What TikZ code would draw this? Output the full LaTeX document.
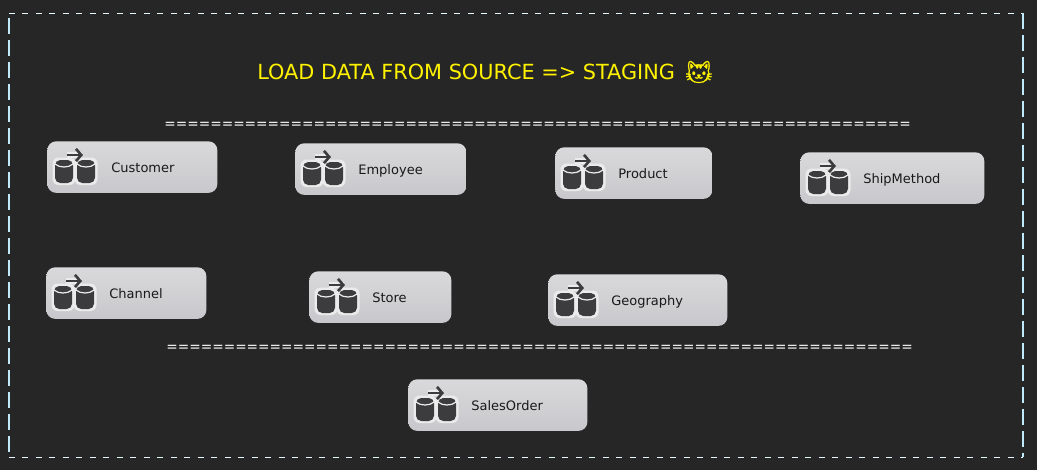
\documentclass[tikz,border=0pt]{standalone}
\usepackage{fontspec}
\setmainfont{DejaVu Sans}
\newfontfamily\emojifont[FakeBold=1.2]{Noto Emoji}
\usepackage{tikz}
\usetikzlibrary{arrows.meta}

\definecolor{panelbg}{HTML}{262626}
\definecolor{cardtop}{HTML}{D9D9DB}
\definecolor{cardbot}{HTML}{C8C8CC}
\definecolor{drumgray}{HTML}{3C3C3E}
\definecolor{halo}{HTML}{EBEBEB}
\tikzset{
	taskcard/.style={rounded corners=5pt, top color=cardtop, bottom color=cardbot, draw=none, anchor=north west, inner sep=0pt},
	tasklabel/.style={text=black!90, font=\fontsize{7.4pt}{10pt}\selectfont, anchor=base west, inner sep=0pt},
	ruletext/.style={text=white, font=\fontsize{7.8pt}{10pt}\selectfont, inner sep=0pt},
	sideh/.style={white!90!cyan, line width=0.45pt, dash pattern=on 0.12cm off 0.15cm},
	sidev/.style={white!75!cyan, line width=0.8pt, dash pattern=on 0.32cm off 0.12cm},
	drum/.pic={
		\fill[halo, rounded corners=3.5pt] (-2.5,-2.5) rectangle (20.5,25);
		\fill[drumgray, rounded corners=3pt] (0,0) rectangle (18,23);
		\draw[halo, line width=0.7pt] (0,4) .. controls (4,8) and (14,8) .. (18,4);
	},
}

\begin{document}
\begin{tikzpicture}[x=0.02cm,y=-0.02cm]
	\useasboundingbox (0,0) rectangle (1037,470);
	\fill[panelbg] (0,0) rectangle (1037,470);

	% border
	\coordinate (tl) at (9,13);
	\coordinate (tr) at (1023,13);
	\coordinate (bl) at (9,457);
	\coordinate (br) at (1023,457);
	\draw[sideh] (tl) -- (tr);
	\draw[sideh] (bl) -- (br);
	\draw[sidev] (9,18) -- (bl);
	\draw[sidev] (tr) -- (br);

	\node[anchor=west, inner sep=0pt, text=yellow, font=\fontsize{11.85pt}{14pt}\selectfont] (title) at (257,72) {LOAD DATA FROM SOURCE => STAGING};
	\node[anchor=west, inner sep=0pt, text=yellow, font=\fontsize{13pt}{16pt}\emojifont] (cat) at (684,72) {\symbol{"1F431}};

	\node[ruletext, anchor=west] (ruleup) at (164,125) {=================================================================};
	\node[ruletext, anchor=west] (ruledown) at (166,348) {=================================================================};

	% tasks
	\foreach \nm/\lft/\tp/\wid/\txt/\off in {
		customer/47/141/170/Customer/64,
		employee/295/143/171/Employee/63,
		product/555/147/157/Product/63,
		shipmethod/800/152/184/ShipMethod/63,
		channel/46/267/160/Channel/63,
		store/309/271/142/Store/63,
		geography/548/274/179/Geography/63,
		salesorder/408/379/179/SalesOrder/63}
	{
		\node[taskcard, minimum width=\wid*0.02cm, minimum height=1.03cm] (\nm) at (\lft,\tp) {};
		\pic at (\lft+8,\tp+19) {drum};
		\pic at (\lft+30,\tp+19) {drum};
		\draw[halo, line width=3pt] (\lft+20,\tp+14) -- (\lft+35,\tp+14);
		\draw[drumgray, line width=1.5pt, -{Straight Barb[length=3pt,width=7pt]}] (\lft+20,\tp+14) -- (\lft+36,\tp+14);
		\node[tasklabel] (\nm-label) at (\lft+\off,\tp+31) {\txt};
	}
\end{tikzpicture}
\end{document}
